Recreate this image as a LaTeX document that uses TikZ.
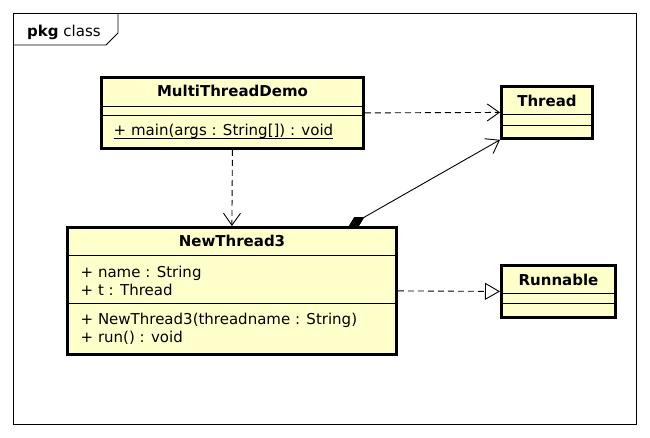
\documentclass[tikz,border=0pt]{standalone}
\usepackage{fontspec}
\setmainfont{DejaVu Sans}
\usetikzlibrary{arrows.meta}
\definecolor{classfill}{RGB}{255,255,204}
\begin{document}
\begin{tikzpicture}[x=1pt,y=-1pt,
  every node/.style={font=\fontsize{15}{18}\selectfont, inner sep=0pt},
  classbox/.style={draw, line width=2.8pt, fill=classfill, anchor=north west, outer sep=1.4pt},
  sepline/.style={line width=0.9pt},
  cname/.style={anchor=base, font=\fontsize{15}{18}\selectfont\bfseries},
  member/.style={anchor=base west},
  conn/.style={line width=0.9pt},
  dep/.style={conn, dash pattern=on 6pt off 4pt, -{Straight Barb[length=12pt,width=17pt]}},
  real/.style={conn, dash pattern=on 6pt off 4pt, -{Triangle[open,length=15pt,width=17pt,fill=white]}},
  comp/.style={conn, {Diamond[length=18pt,width=10pt]}-{Straight Barb[length=12pt,width=17pt]}}
]
\useasboundingbox (0,0) rectangle (650,437);
\fill[white] (0,0) rectangle (650,437);

% frame
\draw[line width=0.9pt] (13,13) rectangle (636,424);
\draw[line width=0.9pt] (13,45) -- (106,45) -- (118,33) -- (118,13);
\node[anchor=base west] (pkg) at (27,36) {\textbf{pkg} class};

% MultiThreadDemo
\node[classbox, minimum width=262pt, minimum height=71pt] (mtd) at (100,76) {};
\draw[sepline] (mtd.west |- 0,106.5) -- (mtd.east |- 0,106.5);
\draw[sepline] (mtd.west |- 0,115) -- (mtd.east |- 0,115);
\node[cname] (mtdn) at (232.5,96.5) {MultiThreadDemo};
\node[member] (mtdm) at (113.5,135.5) {+ main(args : String[]) : void};
\draw[sepline] ([yshift=-2.5pt]mtdm.base west) -- ([yshift=-2.5pt]mtdm.base east);

% Thread
\node[classbox, minimum width=91pt, minimum height=52pt] (thr) at (500,85) {};
\draw[sepline] (thr.west |- 0,114) -- (thr.east |- 0,114);
\draw[sepline] (thr.west |- 0,125) -- (thr.east |- 0,125);
\node[cname] (thrn) at (547,106.5) {Thread};

% Runnable
\node[classbox, minimum width=114pt, minimum height=52pt] (run) at (500,264) {};
\draw[sepline] (run.west |- 0,293) -- (run.east |- 0,293);
\draw[sepline] (run.west |- 0,303) -- (run.east |- 0,303);
\node[cname] (runn) at (558.5,285) {Runnable};

% NewThread3
\node[classbox, minimum width=329pt, minimum height=127pt] (nt) at (66,226) {};
\draw[sepline] (nt.west |- 0,255) -- (nt.east |- 0,255);
\draw[sepline] (nt.west |- 0,303) -- (nt.east |- 0,303);
\node[cname] (ntn) at (232,246.5) {NewThread3};
\node[member] (nta1) at (80.5,277.5) {+ name : String};
\node[member] (nta2) at (80.5,295.5) {+ t : Thread};
\node[member] (nto1) at (80.5,324.5) {+ NewThread3(threadname : String)};
\node[member] (nto2) at (80.5,342.5) {+ run() : void};

% connectors
\coordinate (ntc) at ([xshift=-49pt]nt.north east);
\draw[dep] (mtd.east) -- (thr.west);
\draw[dep] (mtd.south) -- (nt.north);
\draw[real] (nt.east) -- (run.west);
\draw[comp] (ntc) -- (thr.south west);
\end{tikzpicture}
\end{document}
